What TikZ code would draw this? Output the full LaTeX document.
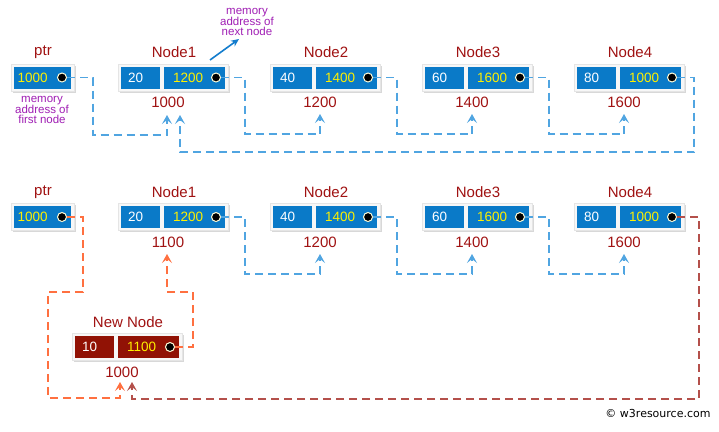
\documentclass[tikz,border=0pt]{standalone}
\usepackage{fontspec}
\setmainfont{Liberation Sans}
\newfontfamily\dejavu{DejaVu Sans}
\usetikzlibrary{shadows,arrows.meta}
\definecolor{cellblue}{RGB}{10,122,200}
\definecolor{cellred}{RGB}{145,18,5}
\definecolor{lblred}{RGB}{160,18,18}
\definecolor{purp}{RGB}{160,30,180}
\definecolor{yel}{RGB}{255,240,0}
\definecolor{bdashc}{RGB}{80,165,225}
\definecolor{odashc}{RGB}{255,112,64}
\definecolor{rdashc}{RGB}{180,80,75}
\definecolor{arrblue}{RGB}{20,125,205}
\tikzset{
  framebox/.style={draw=gray!20, fill=gray!6, line width=0.6pt, inner sep=0pt, anchor=west,
    drop shadow={shadow xshift=1.2pt, shadow yshift=-1.8pt, opacity=0.3, fill=gray}},
  cellbox/.style={fill=#1, draw=none, inner sep=0pt, anchor=west, minimum height=22pt},
  celltext/.style={anchor=west, inner sep=0pt, font=\fontsize{13.5}{15}\selectfont},
  lbl/.style={text=lblred, inner sep=0pt, font=\fontsize{15}{17}\selectfont},
  dotc/.style={circle, fill=black, draw=white!85!yellow, line width=1pt, minimum size=9pt, inner sep=0pt},
  purptext/.style={text=purp, align=center, inner sep=0pt, font=\fontsize{11.5}{10}\selectfont},
  conn/.style={dash pattern=on 8pt off 5pt, line width=1.8pt, -{Stealth[length=9pt,width=10pt,inset=4pt]}},
  bconn/.style={conn, draw=bdashc},
  oconn/.style={conn, draw=odashc},
  rconn/.style={conn, draw=rdashc},
}
% name, x(cell1 left), y(center), value, pointer, fill, label, address
\newcommand\llnode[8]{%
  \node[framebox, minimum width=110pt, minimum height=27pt] (#1f) at (#2-3,#3) {};
  \node[cellbox=#6, minimum width=39pt] (#1a) at (#2,#3) {};
  \node[cellbox=#6, minimum width=61pt] (#1b) at (#2+43,#3) {};
  \node[celltext, text=white] (#1v) at (#2+7,#3) {#4};
  \node[celltext, text=yel] (#1p) at (#2+52,#3) {#5};
  \node[dotc] (#1d) at (#2+95,#3) {};
  \node[lbl] (#1l) at (#2+53,#3-25) {#7};
  \node[lbl] (#1m) at (#2+47,#3+25) {#8};
}
\newcommand\ptrbox[2]{%
  \node[framebox, minimum width=63pt, minimum height=27pt] (#1f) at (11,#2) {};
  \node[cellbox=cellblue, minimum width=57pt] (#1a) at (14,#2) {};
  \node[celltext, text=yel] (#1p) at (17.5,#2) {1000};
  \node[dotc] (#1d) at (62,#2) {};
  \node[lbl] (#1l) at (43,#2-25) {ptr};
}
\begin{document}
\begin{tikzpicture}[x=1pt,y=-1pt]
\useasboundingbox (0,0) rectangle (719,431);
\fill[white] (0,0) rectangle (719,431);

% ---------------- top row ----------------
\ptrbox{p0}{77.5}
\llnode{p1}{121}{77.5}{20}{1200}{cellblue}{Node1}{1000}
\llnode{p2}{273}{77.5}{40}{1400}{cellblue}{Node2}{1200}
\llnode{p3}{425}{77.5}{60}{1600}{cellblue}{Node3}{1400}
\llnode{p4}{577}{77.5}{80}{1000}{cellblue}{Node4}{1600}

\node[purptext] (mfirst) at (42,110) {memory\\address of\\first node};
\node[purptext] (mnext) at (247,22) {memory\\address of\\next node};
\coordinate (mnextfoot) at (210,60);
\coordinate (mnexthead) at (239,39);
\draw[arrblue, line width=1.6pt, -{Stealth[length=8pt,width=7pt]}] (mnextfoot) -- (mnexthead);

\coordinate (tp1a) at (167,115);
\coordinate (tp1b) at (180,115);
\coordinate (tp2) at (320,114);
\coordinate (tp3) at (472,114);
\coordinate (tp4) at (624,114);
\draw[bconn] (p0d.east) -| (93,135) -| (tp1a);
\draw[bconn] (p4d.east) -| (694,152) -| (tp1b);
\draw[bconn] (p1d.east) -| (245,134) -| (tp2);
\draw[bconn] (p2d.east) -| (397,134) -| (tp3);
\draw[bconn] (p3d.east) -| (549,134) -| (tp4);

% ---------------- bottom row ----------------
\ptrbox{q0}{217}
\llnode{q1}{121}{217}{20}{1200}{cellblue}{Node1}{1100}
\llnode{q2}{273}{217}{40}{1400}{cellblue}{Node2}{1200}
\llnode{q3}{425}{217}{60}{1600}{cellblue}{Node3}{1400}
\llnode{q4}{577}{217}{80}{1000}{cellblue}{Node4}{1600}
\llnode{nn}{75}{347}{10}{1100}{cellred}{New Node}{1000}

\coordinate (tq1) at (167,254);
\coordinate (tq2) at (320,254);
\coordinate (tq3) at (472,254);
\coordinate (tq4) at (624,254);
\coordinate (tnn1) at (120,382);
\coordinate (tnn2) at (132,382);
\draw[bconn] (q1d.east) -| (245,274) -| (tq2);
\draw[bconn] (q2d.east) -| (397,274) -| (tq3);
\draw[bconn] (q3d.east) -| (549,274) -| (tq4);
\draw[oconn] (q0d.east) -| (83,292) -| (48,398) -| (tnn1);
\draw[oconn] (nnd.east) -| (193,292) -| (tq1);
\draw[rconn] (q4d.east) -| (699,399) -| (tnn2);

\node[inner sep=0pt, font=\dejavu\fontsize{11}{13}\selectfont] (copy) at (658,413) {\textcopyright\ w3resource.com};
\end{tikzpicture}
\end{document}
